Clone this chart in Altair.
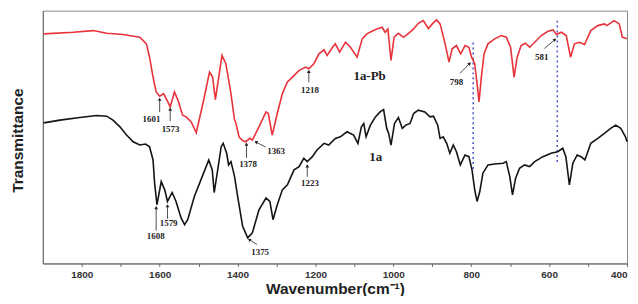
import math
import altair as alt
import pandas as pd

# ---- spectra (wavenumber, transmittance in arbitrary units) ----
red_wn = [1898, 1822, 1771, 1736, 1694, 1651, 1634, 1626, 1617, 1609, 1600, 1590, 1579, 1573,
          1562, 1553, 1541, 1532, 1519, 1506, 1489, 1472, 1464, 1457, 1447, 1440, 1430, 1417,
          1408, 1404, 1396, 1387, 1379, 1368, 1362, 1345, 1327, 1321, 1311, 1298, 1285, 1272,
          1259, 1242, 1225, 1217, 1204, 1191, 1178, 1170, 1157, 1149, 1138, 1123, 1110, 1093,
          1080, 1068, 1055, 1042, 1029, 1021, 1014, 1006, 998, 987, 974, 961, 948, 936, 923,
          910, 900, 889, 880, 867, 857, 849, 838, 827, 816, 806, 799, 791, 784, 780, 774, 767,
          757, 740, 723, 710, 699, 690, 682, 672, 661, 650, 637, 620, 603, 590, 581, 569, 556,
          545, 535, 522, 509, 493, 475, 458, 452, 433, 420, 412, 400]
red_t = [230.7, 232.3, 234, 231.3, 230, 227.3, 220.7, 207.3, 187.3, 172.3, 168, 170.7, 162.3, 157.3,
         172.3, 164, 149, 147.3, 142.3, 131.3, 160.7, 192.3, 187.3, 164.7, 190.7, 209, 200.7, 170.7,
         145, 140.7, 127, 123.5, 122.3, 125.7, 124, 137.3, 152.3, 150.7, 129, 150.7, 170.7, 182.3,
         187.3, 194, 197.3, 195.7, 200.7, 210.7, 214.7, 209, 216.7, 220.7, 212.3, 222.3, 217.3, 207.3,
         225.7, 230.7, 233.3, 235.7, 237.3, 232.3, 235.7, 204, 227.3, 231.3, 227.3, 231.3, 235.7, 241.3, 244,
         236, 240.7, 244.7, 240.7, 220.7, 202.3, 215.7, 219, 210.7, 219, 217.3, 207.3, 200.7, 177.3, 162.3, 187.3, 210.7,
         220.7, 225.7, 229, 227.3, 217.3, 187.3, 207.3, 219, 221.3, 217.3, 222.3, 229, 233.3, 234.7, 230, 232.3, 229,
         207.3, 220.7, 222.3, 220, 234, 239, 240.7, 239, 244, 240.7, 227.3, 225.7]

black_wn = [1898, 1856, 1805, 1762, 1736, 1720, 1702, 1685, 1668, 1651, 1636, 1626, 1617, 1613,
            1607, 1596, 1587, 1580, 1568, 1558, 1545, 1536, 1528, 1511, 1489, 1474, 1465, 1460,
            1451, 1442, 1437, 1428, 1423, 1417, 1408, 1400, 1387, 1374, 1362, 1345, 1327, 1317,
            1309, 1298, 1285, 1272, 1255, 1242, 1230, 1221, 1208, 1196, 1178, 1166, 1149, 1136,
            1119, 1102, 1091, 1082, 1076, 1070, 1059, 1046, 1034, 1025, 1017, 1012, 1006, 997,
            987, 977, 968, 957, 948, 936, 919, 906, 897, 886, 880, 872, 863, 855, 846, 838, 828,
            816, 806, 798, 791, 785, 778, 770, 757, 740, 718, 710, 701, 694, 686, 676, 663, 650,
            637, 616, 595, 578, 565, 557, 548, 539, 528, 518, 508, 493, 475, 458, 442, 429, 416,
            404, 400]
black_t = [141.3, 144, 146.7, 148.7, 148, 144, 137.3, 129, 122.3, 119, 120, 117.3, 104, 80.7,
           59, 82.3, 74, 62.3, 71.3, 62.3, 45.7, 39, 44, 67.3, 89, 104, 94, 71.3,
           94, 117.3, 120.7, 110.7, 99, 102.3, 88, 68, 37.3, 25.7, 30.7, 54, 65.7, 62.3,
           44, 59, 74, 79, 94, 97.3, 105.7, 102.3, 107.3, 114, 120.7, 119, 125.7, 127.3,
           132.3, 129, 120.7, 137.3, 140.7, 127.3, 139, 147.3, 152.3, 154.7, 135.7, 130.7, 119, 140.7,
           146.7, 135.7, 139, 140.7, 150.7, 154, 152.3, 147.3, 148, 139, 125.7, 127.3, 120.7, 110.7, 119, 112.3, 99,
           109, 107.3, 94, 74, 62.3, 72.3, 90.7, 99, 100, 100.7, 102.3, 87.3, 69, 85.7, 95.7, 99, 97.3,
           102.3, 107.3, 110.7, 112.3, 115.7, 107.3, 79, 100.7, 109, 107.3, 104, 120.7, 125.7, 130.7, 135.7, 139, 135.7,
           127.3, 122.3]

series_names = ["1a-Pb", "1a"]
series_label_wn = [1061, 1045]
series_label_t = [188, 107]

# ---- peak annotations ----
ann_labels = ["1601", "1573", "1608", "1579", "1378", "1363", "1375", "1218", "1223", "798", "581"]
ann_label_wn = [1621, 1572, 1610, 1577, 1373, 1301, 1342, 1214, 1214, 838, 619]
ann_label_t = [145, 135, 28, 41, 100, 113, 12, 174, 81, 182, 207]
arrow_wn_from = [1600, 1573, 1609, 1580, 1377, 1328, 1350, 1217, 1221, 829, 612]
arrow_t_from = [152, 143, 33, 45, 106, 117, 19, 182, 87, 191, 216]
arrow_wn_to = [1600, 1573, 1609, 1580, 1377, 1353, 1370, 1217, 1221, 804, 585]
arrow_t_to = [165, 155, 56, 58, 120, 122, 24, 193, 98, 201, 225]

# ---- dotted marker lines ----
marker_wn = [795, 579]
marker_t_top = [222, 244]
marker_t_bottom = [92, 99]

W, H = 587, 254
X_MIN, X_MAX = 400, 1900
Y_MIN, Y_MAX = 0, 254

RED = "#e8333b"
BLACK = "#141414"

spec_df = pd.concat([
    pd.DataFrame({"wn": red_wn, "t": red_t, "series": series_names[0]}),
    pd.DataFrame({"wn": black_wn, "t": black_t, "series": series_names[1]}),
])

sx = W / (X_MAX - X_MIN)
sy = H / (Y_MAX - Y_MIN)
angles = []
for wf, tf, wt, tt in zip(arrow_wn_from, arrow_t_from, arrow_wn_to, arrow_t_to):
    dx = -(wt - wf) * sx
    dy = -(tt - tf) * sy
    angles.append(math.degrees(math.atan2(dx, -dy)) % 360)

arrow_df = pd.DataFrame({"wn": arrow_wn_from, "t": arrow_t_from,
                         "wn2": arrow_wn_to, "t2": arrow_t_to})
head_df = pd.DataFrame({"wn": arrow_wn_to, "t": arrow_t_to, "ang": angles})
label_df = pd.DataFrame({"wn": ann_label_wn, "t": ann_label_t, "label": ann_labels})
name_df = pd.DataFrame({"wn": series_label_wn, "t": series_label_t, "label": series_names})
marker_df = pd.DataFrame({"wn": marker_wn, "t": marker_t_top, "t2": marker_t_bottom})

x_axis = alt.Axis(
    values=list(range(400, 1900, 100)),
    labelExpr="datum.value % 200 == 0 ? datum.label : ''",
    format="d",
    labelFont="Liberation Sans", labelFontWeight="bold", labelFontSize=10, labelColor="#333",
    labelPadding=3, tickSize=3, tickColor="#666", domainColor="#666",
    titleFont="Liberation Sans", titleFontWeight="bold", titleFontSize=15.5, titleColor="#222",
    titleBaseline="alphabetic", titleY=30,
    grid=False,
)
y_axis = alt.Axis(
    labels=False, ticks=False, grid=False, domainColor="#666",
    titleFont="Liberation Sans", titleFontWeight="bold", titleFontSize=15.5, titleColor="#222",
    titleX=-17, titleY=130,
)

def xe(field="wn"):
    return alt.X(f"{field}:Q", title="Wavenumber(cm⁻¹)",
                 scale=alt.Scale(domain=[X_MIN, X_MAX], reverse=True, nice=False, zero=False),
                 axis=x_axis)

def ye(field="t"):
    return alt.Y(f"{field}:Q", title="Transmittance",
                 scale=alt.Scale(domain=[Y_MIN, Y_MAX], nice=False, zero=False),
                 axis=y_axis)

lines = alt.Chart(spec_df).mark_line(strokeWidth=1.6).encode(
    x=xe(), y=ye(),
    color=alt.Color("series:N", scale=alt.Scale(domain=series_names, range=[RED, BLACK]), legend=None),
    detail="series:N",
)

markers = alt.Chart(marker_df).mark_rule(color="#4a57c8", strokeDash=[2, 3], strokeWidth=1.5).encode(
    x=xe(), y=ye(), y2="t2:Q"
)

shafts = alt.Chart(arrow_df).mark_rule(color="#222", strokeWidth=0.8).encode(
    x=xe(), y=ye(), x2="wn2:Q", y2="t2:Q"
)

heads = alt.Chart(head_df).mark_point(shape="triangle-up", filled=True, size=14, color="#222", opacity=1).encode(
    x=xe(), y=ye(), angle=alt.Angle("ang:Q", scale=None)
)

labels = alt.Chart(label_df).mark_text(font="Liberation Serif", fontWeight="bold", fontSize=9, color="#222").encode(
    x=xe(), y=ye(), text="label:N"
)

names = alt.Chart(name_df).mark_text(font="Liberation Serif", fontWeight="bold", fontSize=13, color="#222").encode(
    x=xe(), y=ye(), text="label:N"
)

chart = alt.layer(markers, lines, shafts, heads, labels, names).properties(
    width=W, height=H,
    padding={"left": 35, "top": 2, "right": 3, "bottom": 32},
    autosize=alt.AutoSizeParams(type="none"),
).configure_view(stroke="#888", strokeWidth=1)

chart.save("out.html", embed_options={"renderer": "svg", "actions": False})
